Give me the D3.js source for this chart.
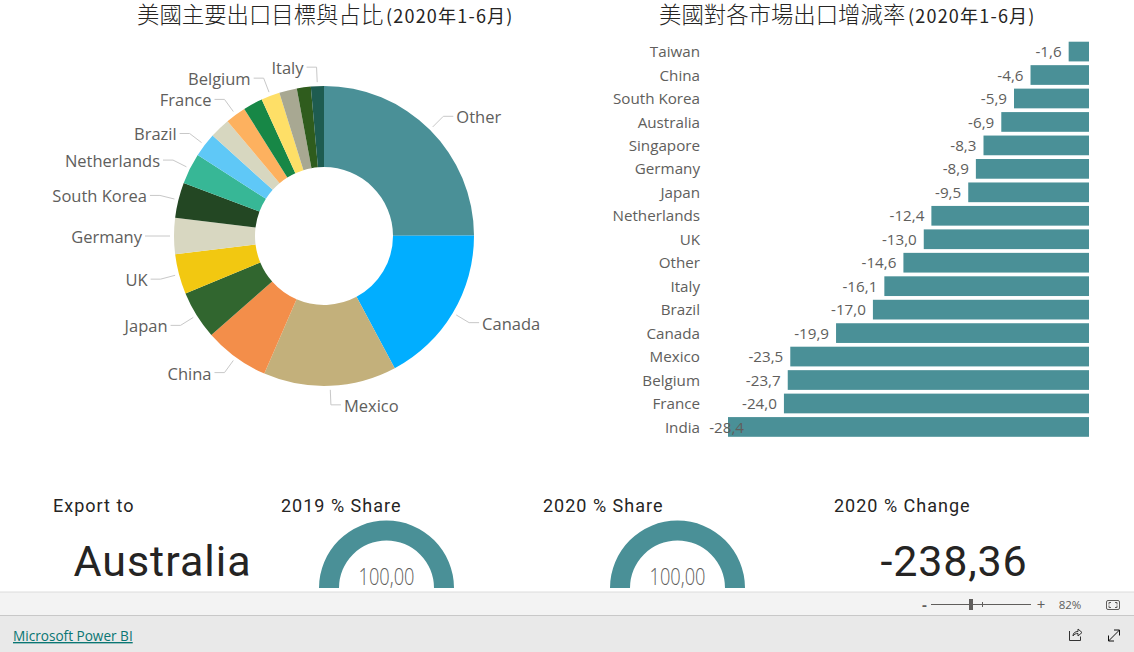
<!DOCTYPE html>
<html>
<head>
<meta charset="utf-8">
<script src="https://cdn.jsdelivr.net/npm/d3@7/dist/d3.min.js"></script>
<style>
  html, body { margin: 0; padding: 0; background: #fff; overflow: hidden; }
  svg { display: block; }
  .din { font-family: Roboto, "Noto Sans", sans-serif; fill: #252423; }
  .seg { font-family: "Open Sans", "Noto Sans", sans-serif; }
</style>
</head>
<body>
<svg id="chart" width="1134" height="652"></svg>
<script>
const shareNames = ["Other", "Canada", "Mexico", "China", "Japan", "UK", "Germany", "South Korea", "Netherlands", "Brazil", "Taiwan", "France", "Singapore", "Belgium", "India", "Australia", "Italy"];
const shareValues = [24.9, 17.2, 14.3, 7.0, 5.2, 4.3, 3.9, 3.8, 3.3, 2.6, 2.2, 2.2, 2.1, 2.0, 1.9, 1.5, 1.4];
const shareColors = ["#4a9097", "#01aeff", "#c3b07b", "#f38e4a", "#31662f", "#f2c811", "#d8d7c1", "#234723", "#37b796", "#5fc8f7", "#d7d7c0", "#fdb15f", "#178746", "#fedf67", "#a8a892", "#2f5c1d", "#1e5c50"];
const hiddenLabels = ["Taiwan", "Singapore", "India", "Australia"];

const changeNames = ["Taiwan", "China", "South Korea", "Australia", "Singapore", "Germany", "Japan", "Netherlands", "UK", "Other", "Italy", "Brazil", "Canada", "Mexico", "Belgium", "France", "India"];
const changeValues = [-1.6, -4.6, -5.9, -6.9, -8.3, -8.9, -9.5, -12.4, -13.0, -14.6, -16.1, -17.0, -19.9, -23.5, -23.7, -24.0, -28.4];

const gaugeValues = [100, 100];
const cardTitles = ["Export to", "2019 % Share", "2020 % Share", "2020 % Change"];
const selectedMarket = "Australia";
const selectedChange = -238.36;

const teal = "#4a9097";
const comma = (v, n) => v.toFixed(n).replace(".", ",");

const svg = d3.select("#chart");

function title(left, main, tail) {
  svg.append("text").attr("x", left).attr("y", 23).attr("fill", "#252423")
    .attr("font-family", '"Noto Sans CJK TC"').attr("font-size", 22.4).attr("font-weight", 300).text(main);
  svg.append("text").attr("x", left + 249).attr("y", 23).attr("fill", "#252423")
    .attr("font-family", '"Noto Sans CJK TC", Roboto').attr("font-size", 18).attr("letter-spacing", 1.2).text(tail);
}
title(137, "美國主要出口目標與占比", "(2020年1-6月)");
title(659, "美國對各市場出口增減率", "(2020年1-6月)");

// donut
const radius = 150;
const pieG = svg.append("g").attr("transform", "translate(324,236)");
const pie = d3.pie().sort(null).value((d, i) => shareValues[i]);
const arc = d3.arc().innerRadius(69).outerRadius(radius);
const slices = pie(shareNames);

pieG.selectAll("path.slice").data(slices).enter().append("path")
  .attr("class", "slice")
  .attr("d", arc)
  .attr("fill", (d, i) => shareColors[i]);

const polar = (a, r) => [Math.sin(a) * r, -Math.cos(a) * r];
const labelled = slices.filter((d) => !hiddenLabels.includes(d.data));

pieG.selectAll("path.leader").data(labelled).enter().append("path")
  .attr("class", "leader")
  .attr("fill", "none")
  .attr("stroke", "#c8c8c8")
  .attr("d", (d) => {
    const a = (d.startAngle + d.endAngle) / 2;
    const p0 = polar(a, radius + 4);
    const p1 = polar(a, radius + 19);
    const side = Math.sin(a) > 0 ? 1 : -1;
    return d3.line()([p0, p1, [p1[0] + side * 10, p1[1]]]);
  });

pieG.selectAll("text.pieLabel").data(labelled).enter().append("text")
  .attr("class", "pieLabel seg")
  .attr("font-size", 16.5)
  .attr("fill", "#605e5c")
  .attr("dominant-baseline", "middle")
  .attr("text-anchor", (d) => (Math.sin((d.startAngle + d.endAngle) / 2) > 0 ? "start" : "end"))
  .attr("transform", (d) => {
    const a = (d.startAngle + d.endAngle) / 2;
    const p1 = polar(a, radius + 19);
    const side = Math.sin(a) > 0 ? 1 : -1;
    return `translate(${p1[0] + side * 13},${p1[1] + 2.5})`;
  })
  .text((d) => d.data);

// bars
const x = d3.scaleLinear().domain([-28.4, 0]).range([728, 1089]);
const y = d3.scaleBand().domain(changeNames).range([41, 437.5]).paddingInner(0.16).paddingOuter(0.03);

svg.selectAll("rect.bar").data(changeNames).enter().append("rect")
  .attr("class", "bar")
  .attr("x", (d, i) => x(changeValues[i]))
  .attr("y", (d) => y(d))
  .attr("width", (d, i) => x(0) - x(changeValues[i]))
  .attr("height", y.bandwidth())
  .attr("fill", teal);

svg.selectAll("text.cat").data(changeNames).enter().append("text")
  .attr("class", "cat seg")
  .attr("x", 700)
  .attr("y", (d) => y(d) + y.bandwidth() / 2 + 1.5)
  .attr("dominant-baseline", "middle")
  .attr("text-anchor", "end")
  .attr("font-size", 15.2)
  .attr("fill", "#605e5c")
  .text((d) => d);

svg.selectAll("text.val").data(changeNames).enter().append("text")
  .attr("class", "val seg")
  .attr("x", (d, i) => Math.max(x(changeValues[i]) - 7, 744))
  .attr("y", (d) => y(d) + y.bandwidth() / 2 + 1.5)
  .attr("dominant-baseline", "middle")
  .attr("text-anchor", "end")
  .attr("font-size", 15.2)
  .attr("fill", "#605e5c")
  .text((d, i) => comma(changeValues[i], 1));

// cards
const cardX = [53, 281, 543, 834];
svg.selectAll("text.cardTitle").data(cardTitles).enter().append("text")
  .attr("class", "cardTitle din")
  .attr("x", (d, i) => cardX[i])
  .attr("y", 512)
  .attr("font-size", 18)
  .attr("letter-spacing", 1)
  .text((d) => d);

svg.append("text").attr("class", "din").attr("x", 162.5).attr("y", 576)
  .attr("text-anchor", "middle").attr("font-size", 43).attr("letter-spacing", 1).text(selectedMarket);
svg.append("text").attr("class", "din").attr("x", 954).attr("y", 576)
  .attr("text-anchor", "middle").attr("font-size", 43).attr("letter-spacing", 0.8).text(comma(selectedChange, 2));

// gauges
const gaugeX = [386.5, 677.5];
const gaugeAngle = d3.scaleLinear().domain([0, 100]).range([-Math.PI / 2, Math.PI / 2]);
const gaugeArc = d3.arc().innerRadius(47.5).outerRadius(67.5);
gaugeValues.forEach((v, i) => {
  const g = svg.append("g").attr("transform", `translate(${gaugeX[i]},588)`);
  g.append("path")
    .attr("d", gaugeArc({ startAngle: gaugeAngle(0), endAngle: gaugeAngle(v) }))
    .attr("fill", teal);
  g.append("text").attr("class", "seg").attr("y", -3).attr("text-anchor", "middle")
    .attr("font-size", 23).attr("font-weight", 300).attr("fill", "#605e5c")
    .attr("textLength", 56).attr("lengthAdjust", "spacingAndGlyphs").text(comma(v, 2));
});

// power bi footer
svg.append("rect").attr("x", 0).attr("y", 592).attr("width", 1134).attr("height", 23).attr("fill", "#f3f3f3");
svg.append("rect").attr("x", 0).attr("y", 615).attr("width", 1134).attr("height", 37).attr("fill", "#e9e9e9");
svg.append("line").attr("x1", 0).attr("x2", 1134).attr("y1", 592).attr("y2", 592).attr("stroke", "#dcdcdc");
svg.append("line").attr("x1", 0).attr("x2", 1134).attr("y1", 615.5).attr("y2", 615.5).attr("stroke", "#c8c8c8");

svg.append("text").attr("class", "seg").attr("x", 13).attr("y", 641).attr("font-size", 13.6)
  .attr("fill", "#0a7673").attr("text-decoration", "underline").text("Microsoft Power BI");

const zoomG = svg.append("g").attr("fill", "#605e5c").attr("stroke", "none");
zoomG.append("text").attr("class", "seg").attr("x", 924.5).attr("y", 610).attr("text-anchor", "middle").attr("font-size", 15).attr("font-weight", 700).text("-");
zoomG.append("rect").attr("x", 931).attr("y", 604).attr("width", 100).attr("height", 1);
zoomG.append("rect").attr("x", 969).attr("y", 599).attr("width", 4).attr("height", 11);
zoomG.append("rect").attr("x", 982).attr("y", 602).attr("width", 1).attr("height", 5);
zoomG.append("text").attr("class", "seg").attr("x", 1041).attr("y", 610).attr("text-anchor", "middle").attr("font-size", 15).text("+");
zoomG.append("text").attr("class", "seg").attr("x", 1070).attr("y", 609).attr("text-anchor", "middle").attr("font-size", 11.5).text("82%");

const icons = svg.append("g").attr("fill", "none").attr("stroke", "#333").attr("stroke-width", 1);
icons.append("rect").attr("x", 1106.5).attr("y", 600.5).attr("width", 13).attr("height", 9).attr("rx", 1.5).attr("stroke", "#605e5c");
icons.append("path").attr("d", "M1109 604.5v-2h2M1117 604.5v-2h-2M1109 605.5v2h2M1117 605.5v2h-2").attr("stroke", "#605e5c");
icons.append("path").attr("d", "M1069.5 631v9.5h11v-4M1073 636c0-3 2-4.5 5-4.5v-2.5l4 3.5-4 3.5v-2.5c-2 0-4 .5-5 2.5");
icons.append("path").attr("d", "M1108.5 641l11-11M1114 630h5.5v5.5M1108.5 635.5v5.5h5.5").attr("stroke", "#111");
</script>
</body>
</html>
